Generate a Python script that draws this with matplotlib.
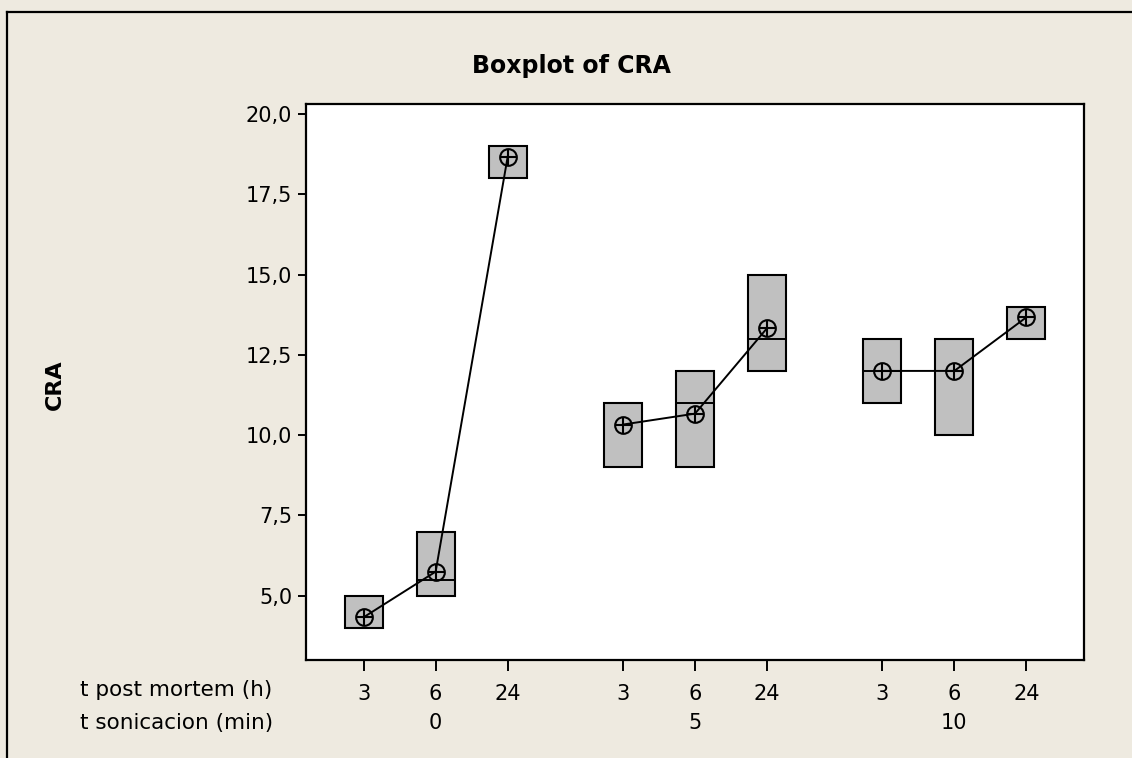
import matplotlib
matplotlib.use("Agg")
import matplotlib.pyplot as plt
from matplotlib.patches import Rectangle
from matplotlib.lines import Line2D

# datos
t_post = ["3", "6", "24", "3", "6", "24", "3", "6", "24"]
t_sonic = ["0", "5", "10"]
pos = [0, 1, 2, 3.6, 4.6, 5.6, 7.2, 8.2, 9.2]
q1 = [4, 5, 18, 9, 9, 12, 11, 10, 13]
q3 = [5, 7, 19, 11, 12, 15, 13, 13, 14]
mediana = [4, 5.5, 19, 11, 11, 13, 12, 13, 14]
media = [4.33, 5.75, 18.67, 10.33, 10.67, 13.33, 12, 12, 13.67]
yticks = [5.0, 7.5, 10.0, 12.5, 15.0, 17.5, 20.0]

bg = "#EEEAE0"
box_w = 0.53

fig = plt.figure(figsize=(11.32, 7.58), dpi=100, facecolor=bg)
ax = fig.add_axes([0.2703, 0.1293, 0.6873, 0.7335])
ax.set_facecolor("white")

for x, a, b, m in zip(pos, q1, q3, mediana):
    ax.add_patch(Rectangle((x - box_w / 2, a), box_w, b - a,
                           facecolor="#C0C0C0", edgecolor="black", lw=1.5, zorder=2))
    ax.plot([x - box_w / 2, x + box_w / 2], [m, m], color="black", lw=1.4, zorder=3)

# linea que une las medias de cada grupo
for g in range(3):
    ax.plot(pos[3 * g:3 * g + 3], media[3 * g:3 * g + 3], color="black", lw=1.4, zorder=4)
ax.plot(pos, media, linestyle="none", marker="o", ms=12, mfc="none", mec="black", mew=1.5, zorder=5)
ax.plot(pos, media, linestyle="none", marker="+", ms=12, mec="black", mew=1.5, zorder=5)

ax.set_xlim(-0.8, 10.0)
ax.set_ylim(3.0, 20.31)
ax.set_yticks(yticks)
ax.set_yticklabels([f"{v:.1f}".replace(".", ",") for v in yticks], fontsize=15)
ax.tick_params(axis="y", length=6, width=1.4, pad=4)
ax.set_xticks(pos)
ax.set_xticklabels(t_post, fontsize=15)
ax.tick_params(axis="x", length=8, width=1.4, pad=9)
for s in ax.spines.values():
    s.set_linewidth(1.6)

for x, lab in zip([pos[1], pos[4], pos[7]], t_sonic):
    ax.text(x, -0.113, lab, transform=ax.get_xaxis_transform(), ha="center", va="center", fontsize=15)

fig.text(0.0707, 0.0897, "t post mortem (h)", ha="left", va="center", fontsize=15.5)
fig.text(0.0707, 0.0462, "t sonicacion (min)", ha="left", va="center", fontsize=15.5)
fig.text(0.505, 0.913, "Boxplot of CRA", ha="center", va="center", fontsize=17, fontweight="bold")
fig.text(0.0486, 0.492, "CRA", ha="center", va="center", rotation=90, fontsize=16, fontweight="bold")

# marco exterior (solo arriba e izquierda)
fig.add_artist(Line2D([7 / 1132, 1], [1 - 12 / 758, 1 - 12 / 758], color="black", lw=1.6))
fig.add_artist(Line2D([7 / 1132, 7 / 1132], [0, 1 - 12 / 758], color="black", lw=1.6))

fig.savefig("out.png", dpi=100, facecolor=bg)
